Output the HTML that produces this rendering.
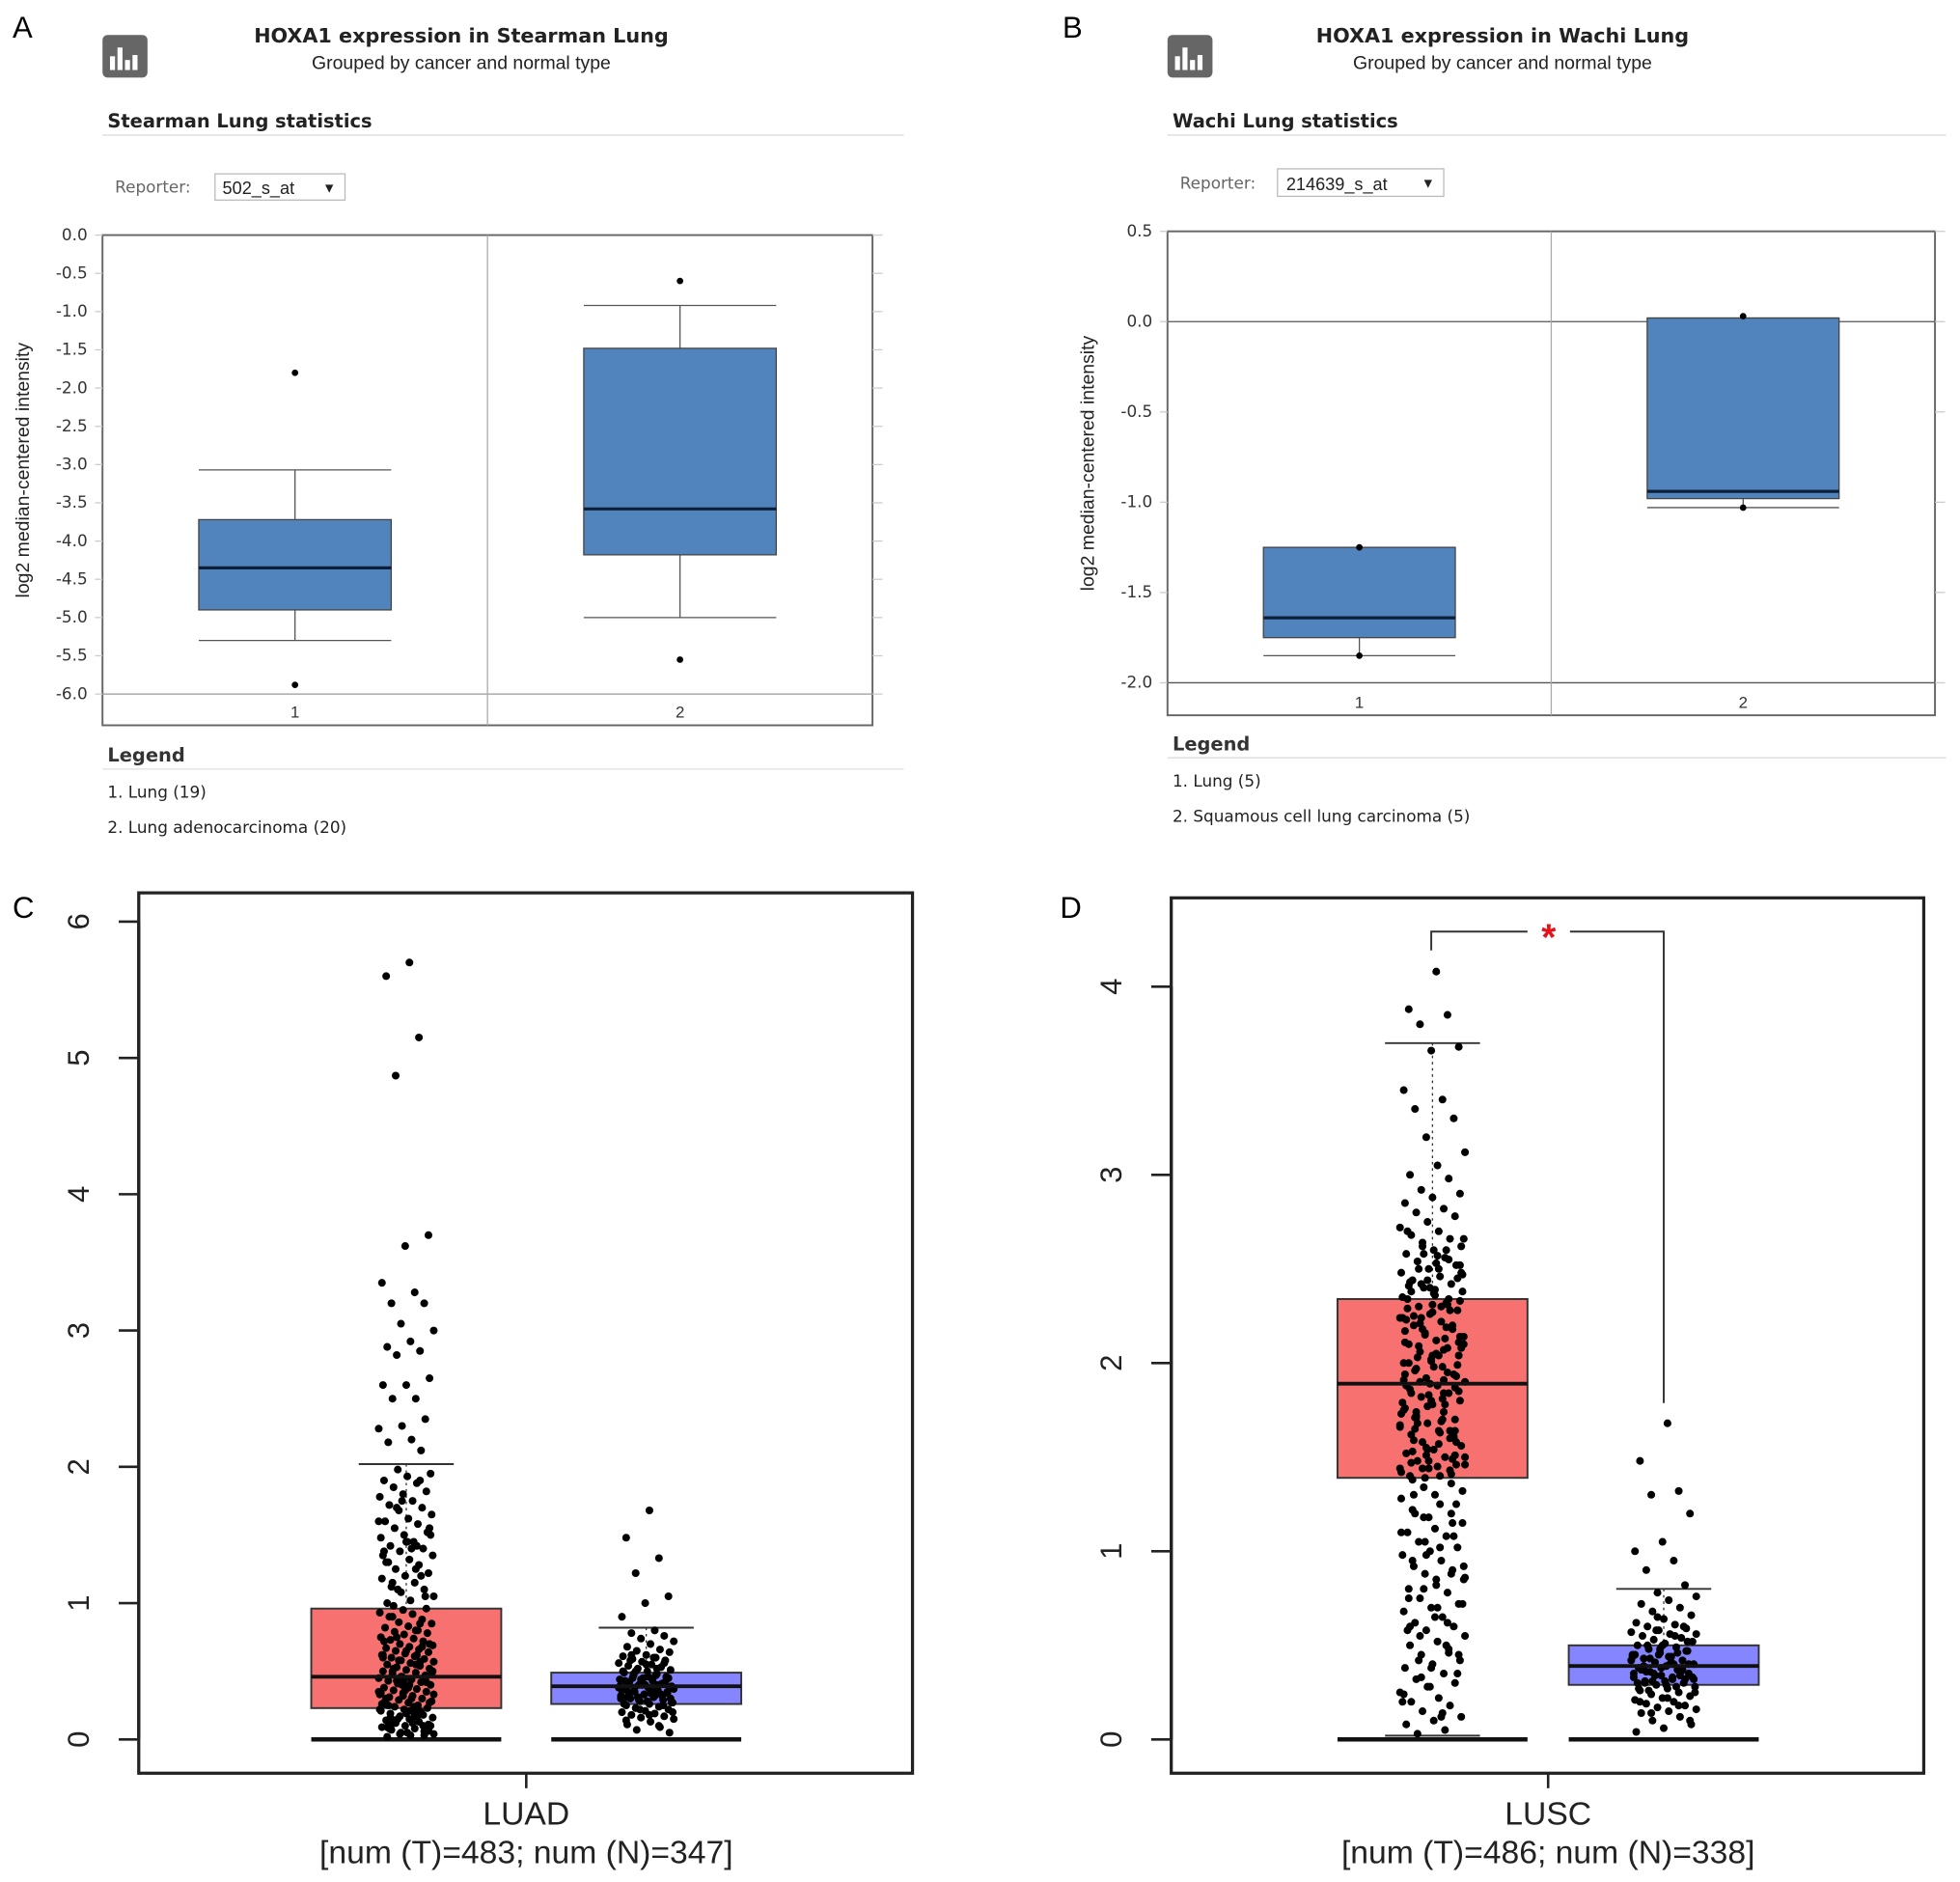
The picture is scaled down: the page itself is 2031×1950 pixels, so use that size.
<!DOCTYPE html>
<html><head><meta charset="utf-8"><style>
html,body{margin:0;padding:0;background:#fff;}
svg{display:block;}
text{font-family:"Liberation Sans","DejaVu Sans",sans-serif;}
.ui{font-family:"DejaVu Sans","Liberation Sans",sans-serif;}
</style></head><body>
<svg id="fig" xmlns="http://www.w3.org/2000/svg" width="2031" height="1950" viewBox="0 0 1568 1505" preserveAspectRatio="none">
<rect width="1568" height="1505" fill="#fff"/>
<text x="10" y="30" font-size="24">A</text>
<g><rect x="82" y="28" width="36" height="34" rx="4" fill="#666"/><rect x="88" y="45" width="4" height="11" fill="#fff"/><rect x="94" y="38" width="4" height="18" fill="#fff"/><rect x="100" y="48" width="4" height="8" fill="#fff"/><rect x="106" y="44" width="4" height="12" fill="#fff"/></g>
<text x="369" y="34" font-size="16" font-weight="bold" text-anchor="middle" class="ui" fill="#222">HOXA1 expression in Stearman Lung</text>
<text x="369" y="55" font-size="15" text-anchor="middle" fill="#222">Grouped by cancer and normal type</text>
<text x="86" y="102" font-size="15" font-weight="bold" class="ui" fill="#222">Stearman Lung statistics</text>
<line x1="82" y1="108" x2="723" y2="108" stroke="#ddd"/>
<text x="92" y="154" font-size="13" class="ui" fill="#666">Reporter:</text>
<g><rect x="172" y="139" width="104" height="21" fill="#fff" stroke="#bbb"/><text x="178" y="155" font-size="14" fill="#222">502_s_at</text><text x="258" y="154" font-size="11" fill="#222">▼</text></g>
<g id="chartA"></g>
<text x="86" y="609" font-size="15" font-weight="bold" class="ui" fill="#333">Legend</text>
<line x1="82" y1="615" x2="723" y2="615" stroke="#ddd"/>
<text x="86" y="638" font-size="13" class="ui" fill="#222">1. Lung (19)</text>
<text x="86" y="666" font-size="13" class="ui" fill="#222">2. Lung adenocarcinoma (20)</text>
<text x="850" y="30" font-size="24">B</text>
<g><rect x="934" y="28" width="36" height="34" rx="4" fill="#666"/><rect x="940" y="45" width="4" height="11" fill="#fff"/><rect x="946" y="38" width="4" height="18" fill="#fff"/><rect x="952" y="48" width="4" height="8" fill="#fff"/><rect x="958" y="44" width="4" height="12" fill="#fff"/></g>
<text x="1202" y="34" font-size="16" font-weight="bold" text-anchor="middle" class="ui" fill="#222">HOXA1 expression in Wachi Lung</text>
<text x="1202" y="55" font-size="15" text-anchor="middle" fill="#222">Grouped by cancer and normal type</text>
<text x="938" y="102" font-size="15" font-weight="bold" class="ui" fill="#222">Wachi Lung statistics</text>
<line x1="934" y1="108" x2="1557" y2="108" stroke="#ddd"/>
<text x="944" y="151" font-size="13" class="ui" fill="#666">Reporter:</text>
<g><rect x="1022" y="135" width="133" height="22" fill="#fff" stroke="#bbb"/><text x="1029" y="152" font-size="14" fill="#222">214639_s_at</text><text x="1137" y="150" font-size="11" fill="#222">▼</text></g>
<g id="chartB"></g>
<text x="938" y="600" font-size="15" font-weight="bold" class="ui" fill="#333">Legend</text>
<line x1="934" y1="606" x2="1557" y2="606" stroke="#ddd"/>
<text x="938" y="629" font-size="13" class="ui" fill="#222">1. Lung (5)</text>
<text x="938" y="657" font-size="13" class="ui" fill="#222">2. Squamous cell lung carcinoma (5)</text>
<text x="10" y="734" font-size="24">C</text>
<text x="848" y="734" font-size="24">D</text>
<g id="chartC"></g>
<g id="chartD"></g>
</svg>
<script>
const aCats = ["1","2"];
const aQ1 = [-4.9,-4.18];
const aMed = [-4.35,-3.58];
const aQ3 = [-3.72,-1.48];
const aLo = [-5.3,-5.0];
const aHi = [-3.07,-0.92];
const aOut = [[-1.8,-5.88],[-0.6,-5.55]];
const aTicks = ["0.0","-0.5","-1.0","-1.5","-2.0","-2.5","-3.0","-3.5","-4.0","-4.5","-5.0","-5.5","-6.0"];
const bCats = ["1","2"];
const bQ1 = [-1.75,-0.98];
const bMed = [-1.64,-0.94];
const bQ3 = [-1.25,0.02];
const bLo = [-1.85,-1.03];
const bHi = [-1.25,0.02];
const bOut = [[-1.25,-1.85],[0.03,-1.03]];
const bTicks = ["0.5","0.0","-0.5","-1.0","-1.5","-2.0"];
const cStats = {tumor:[0,0.23,0.46,0.96,2.02], normal:[0,0.26,0.39,0.49,0.82]};
const cTicks = ["0","1","2","3","4","5","6"];
const cTumor = [5.7,5.6,5.15,4.87,3.7,3.62,3.35,3.28,3.2,3.2,3.05,3.0,2.92,2.88,2.85,2.82,2.65,2.6,2.6,2.5,2.5,2.35,2.3,2.28,2.2,2.18,2.12,
1.98,1.95,1.93,1.9,1.88,1.85,1.82,1.8,1.78,1.75,1.72,1.7,1.68,1.65,1.62,1.6,1.58,1.55,1.52,1.5,1.48,1.45,1.42,1.4,1.38,1.35,1.32,1.3,1.28,1.25,1.22,1.2,1.18,1.15,1.12,1.1,1.08,1.05,1.02,1.0,1.9,1.7,1.55,1.45,1.35,1.25,1.15,1.05,1.75,1.6,1.4,1.3,1.2,1.1,1.5,1.45,1.38,1.42,
0.98,0.96,0.95,0.93,0.92,0.9,0.88,0.86,0.85,0.83,0.82,0.8,0.79,0.78,0.77,0.75,0.74,0.73,0.72,0.7,0.69,0.68,0.67,0.66,0.65,0.64,0.63,0.62,0.61,0.6,0.59,0.58,0.57,0.56,0.55,0.54,0.53,0.52,0.51,0.5,0.49,0.48,0.47,0.46,0.45,0.44,0.43,0.42,0.41,0.4,0.39,0.38,0.37,0.36,0.35,0.34,0.33,0.32,0.31,0.3,0.29,0.28,0.27,0.26,0.25,0.24,0.23,0.22,0.21,0.2,0.19,0.18,0.17,0.16,0.15,0.14,0.13,0.12,0.11,0.1,0.09,0.08,0.07,0.06,0.05,0.04,0.03,0.02,
0.85,0.75,0.7,0.65,0.6,0.55,0.5,0.45,0.4,0.35,0.3,0.25,0.2,0.15,0.1,0.05,0.72,0.62,0.52,0.42,0.32,0.22,0.12,0.08,0.68,0.58,0.48,0.38,0.28,0.18,0.14,0.06,0.44,0.34,0.24,0.16,0.1,0.04,0.5,0.4,0.3,0.2,0.13,0.07,0.36,0.26,0.17,0.11,0.03,0.46,0.33,0.21,0.09,0.57,0.43,0.27,0.19,0.62,0.8,0.9];
const cNormal = [1.68,1.48,1.33,1.22,1.05,1.0,0.9,0.8,0.78,0.76,0.74,0.72,0.7,0.68,0.66,0.65,0.64,0.62,0.61,0.6,0.59,0.58,0.57,0.56,0.55,0.54,0.53,0.52,0.51,0.5,0.49,0.48,0.47,0.46,0.45,0.44,0.43,0.42,0.41,0.4,0.39,0.38,0.37,0.36,0.35,0.34,0.33,0.32,0.31,0.3,0.29,0.28,0.27,0.26,0.25,0.24,0.23,0.22,0.21,0.2,0.19,0.18,0.17,0.16,0.15,0.13,0.11,0.09,0.07,0.05,
0.55,0.5,0.47,0.45,0.42,0.4,0.38,0.36,0.35,0.33,0.31,0.3,0.28,0.26,0.52,0.48,0.44,0.41,0.39,0.37,0.34,0.32,0.29,0.27,0.46,0.43,0.4,0.38,0.35,0.33,0.3,0.6,0.58,0.25,0.22,0.2,0.18,0.14,0.1,0.5,0.45,0.4,0.36,0.32,0.62,0.56,0.44,0.37,0.34,0.31];
const dStats = {tumor:[0.02,1.39,1.89,2.34,3.7], normal:[0,0.29,0.39,0.5,0.8]};
const dTicks = ["0","1","2","3","4"];
const dTumor = [4.08,3.88,3.85,3.8,3.68,3.66,3.45,3.4,3.35,3.3,3.2,3.12,3.05,3.0,2.98,2.92,2.9,2.88,2.85,2.82,2.8,2.78,2.75,2.72,2.7,2.68,2.66,2.64,2.62,2.6,2.58,2.56,2.54,2.52,2.5,2.48,2.46,2.44,2.42,2.4,2.38,2.36,2.34,2.32,2.3,2.28,2.26,2.24,2.22,2.2,2.18,2.16,2.14,2.12,2.1,2.08,2.06,2.04,2.02,2.0,1.98,1.96,1.94,1.92,1.9,1.88,1.86,1.84,1.82,1.8,1.78,1.76,1.74,1.72,1.7,1.68,1.66,1.64,1.62,1.6,1.58,1.56,1.54,1.52,1.5,1.48,1.46,1.44,1.42,1.4,1.38,1.36,1.34,1.32,1.3,
2.7,2.6,2.5,2.45,2.4,2.35,2.3,2.25,2.2,2.15,2.1,2.05,2.0,1.95,1.9,1.85,1.8,1.75,1.7,1.65,1.6,1.55,1.5,1.45,1.4,2.55,2.42,2.33,2.27,2.17,2.07,1.97,1.87,1.77,1.67,1.57,1.47,1.43,2.62,2.48,2.37,2.23,2.13,2.03,1.93,1.83,1.73,1.63,1.53,1.41,
2.58,2.47,2.39,2.29,2.19,2.09,1.99,1.89,1.79,1.69,1.59,1.49,1.39,2.66,2.53,2.41,2.31,2.21,2.11,2.01,1.91,1.81,1.71,1.61,1.51,1.46,2.57,2.43,2.34,2.24,2.14,2.04,1.94,1.84,1.74,1.64,1.54,1.44,2.5,2.38,2.28,2.18,2.08,1.98,1.88,1.78,1.68,1.58,1.48,
1.28,1.25,1.22,1.2,1.18,1.15,1.12,1.1,1.08,1.05,1.02,1.0,0.98,0.95,0.92,0.9,0.88,0.85,0.82,0.8,0.78,0.75,0.72,0.7,0.68,0.65,0.62,0.6,0.58,0.55,0.52,0.5,0.48,0.45,0.42,0.4,0.38,0.35,0.32,0.3,0.28,0.25,0.22,0.2,0.18,0.15,0.12,0.1,0.08,0.05,0.03,
1.25,1.18,1.1,1.02,0.95,0.88,0.8,0.72,0.65,0.58,0.5,0.42,0.35,0.28,0.2,0.12,1.3,1.15,1.05,0.92,0.85,0.75,0.62,0.55,0.45,0.38,0.24,0.14,1.2,1.08,0.98,0.86,0.7,0.6,0.46,0.33,2.52,2.31,2.11,1.91,1.71,1.51,2.44,2.24,2.04,1.84,1.64,1.44];
const dNormal = [1.68,1.48,1.32,1.3,1.2,1.05,1.0,0.95,0.9,0.82,0.78,0.76,0.74,0.72,0.7,0.68,0.66,0.64,0.62,0.61,0.6,0.59,0.58,0.57,0.56,0.55,0.54,0.53,0.52,0.51,0.5,0.49,0.48,0.47,0.46,0.45,0.44,0.43,0.42,0.41,0.4,0.39,0.38,0.37,0.36,0.35,0.34,0.33,0.32,0.31,0.3,0.29,0.28,0.27,0.26,0.25,0.24,0.23,0.22,0.21,0.2,0.19,0.18,0.17,0.16,0.15,0.14,0.12,0.1,0.08,0.06,0.04,
0.55,0.5,0.47,0.45,0.42,0.4,0.38,0.36,0.35,0.33,0.31,0.3,0.28,0.26,0.52,0.48,0.44,0.41,0.39,0.37,0.34,0.32,0.29,0.27,0.46,0.43,0.4,0.38,0.35,0.33,0.3,0.6,0.58,0.25,0.22,0.2,0.18,0.14,0.1,0.5,0.45,0.4,0.36,0.32,0.65,0.56,0.44,0.37,0.34,0.31];

const NS = "http://www.w3.org/2000/svg";
function mk(parent, tag, attrs){const e=document.createElementNS(NS,tag);for(const k in attrs)e.setAttribute(k,attrs[k]);parent.appendChild(e);return e;}

function oncomine(g, cfg, cats, q1, med, q3, lo, hi, outs, ticks){
  const y = v => cfg.y0 + (cfg.v0 - v) * (cfg.y1 - cfg.y0) / (cfg.v0 - cfg.v1);
  const bw = (cfg.x1 - cfg.x0) / cats.length;
  const fr = mk(g,'rect',{x:cfg.x0,y:cfg.y0,width:cfg.x1-cfg.x0,height:cfg.yb-cfg.y0,fill:'none',stroke:'#666','stroke-width':1.5});
  
  
  ticks.forEach(t=>{
    const v=parseFloat(t), yy=y(v);
    mk(g,'line',{x1:cfg.x1,y1:yy,x2:cfg.x1+8,y2:yy,stroke:'#ccc'});
    mk(g,'line',{x1:cfg.x0-6,y1:yy,x2:cfg.x0,y2:yy,stroke:'#ccc'});
    const tx=mk(g,'text',{x:cfg.x0-12,y:yy+4,'font-size':13,'text-anchor':'end',fill:'#333',class:'ui'});
    tx.textContent=t;
    
    
  });
  cfg.hlines.forEach(v=>mk(g,'line',{x1:cfg.x0,y1:y(v),x2:cfg.x1,y2:y(v),stroke:cfg.hcol||'#999'}));
  for(let i=1;i<cats.length;i++) mk(g,'line',{x1:cfg.x0+bw*i,y1:cfg.y0,x2:cfg.x0+bw*i,y2:cfg.yb,stroke:'#aaa'});
  const yl=mk(g,'text',{x:0,y:0,'font-size':15,'text-anchor':'middle',fill:'#222',transform:`translate(${cfg.ylx},${(cfg.y0+cfg.yb)/2-8}) rotate(-90)`});
  yl.textContent='log2 median-centered intensity';
  
  
  cats.forEach((c,i)=>{
    const cx=cfg.x0+bw*(i+0.5), hw=bw*0.25;
    mk(g,'line',{x1:cx,y1:y(hi[i]),x2:cx,y2:y(lo[i]),stroke:'#555'});
    mk(g,'line',{x1:cx-hw,y1:y(hi[i]),x2:cx+hw,y2:y(hi[i]),stroke:'#555'});
    mk(g,'line',{x1:cx-hw,y1:y(lo[i]),x2:cx+hw,y2:y(lo[i]),stroke:'#555'});
    const b=mk(g,'rect',{x:cx-hw,y:y(q3[i]),width:hw*2,height:y(q1[i])-y(q3[i]),fill:'#5184bc',stroke:'#444'});
    
    
    mk(g,'line',{x1:cx-hw,y1:y(med[i]),x2:cx+hw,y2:y(med[i]),stroke:'#0e1f3a','stroke-width':2.5});
    outs[i].forEach(v=>{const d=mk(g,'circle',{cx:cx,cy:y(v),r:2.6,fill:'#000'});
      
      });
    const xl=mk(g,'text',{x:cx,y:cfg.yb-6,'font-size':13,'text-anchor':'middle',fill:'#333'});
    xl.textContent=c;
    
    
  });
}
oncomine(document.getElementById('chartA'),{x0:82,x1:698,y0:188,yb:580,y1:555,v0:0,v1:-6,hlines:[-6],ylx:23},aCats,aQ1,aMed,aQ3,aLo,aHi,aOut,aTicks);
oncomine(document.getElementById('chartB'),{x0:934,x1:1548,y0:185,yb:572,y1:546,v0:0.5,v1:-2,hlines:[0,-2],hcol:'#555',ylx:875},bCats,bQ1,bMed,bQ3,bLo,bHi,bOut,bTicks);

function gepia(g, cfg, stats, tumor, normal, ticks, label, nlabel){
  const y = v => cfg.yz - v*cfg.ppu;
  const f=mk(g,'rect',{x:cfg.x0,y:cfg.y0,width:cfg.x1-cfg.x0,height:cfg.yb-cfg.y0,fill:'none',stroke:'#222','stroke-width':2.5});
  
  
  ticks.forEach(t=>{const yy=y(+t);
    mk(g,'line',{x1:cfg.x0-16,y1:yy,x2:cfg.x0,y2:yy,stroke:'#222','stroke-width':2});
    const tx=mk(g,'text',{x:0,y:0,'font-size':24,'text-anchor':'middle',fill:'#222',transform:`translate(${cfg.x0-40},${yy}) rotate(-90)`});
    tx.textContent=t;
    
    });
  mk(g,'line',{x1:cfg.x0,y1:y(0),x2:cfg.x0,y2:y(+ticks[ticks.length-1]),stroke:'#222','stroke-width':2.5});
  const mid=(cfg.cT+cfg.cN)/2;
  mk(g,'line',{x1:mid,y1:cfg.yb,x2:mid,y2:cfg.yb+12,stroke:'#222','stroke-width':2});
  const l1=mk(g,'text',{x:mid,y:cfg.yb+41,'font-size':26,'text-anchor':'middle',fill:'#222'});l1.textContent=label;
  
  
  const l2=mk(g,'text',{x:mid,y:cfg.yb+72,'font-size':26,'text-anchor':'middle',fill:'#222'});l2.textContent=nlabel;
  
  
  const hw=76;
  [['tumor',cfg.cT,'#f87171',tumor],['normal',cfg.cN,'#8585ff',normal]].forEach(([k,cx,col,pts])=>{
    const s=stats[k];
    const b=mk(g,'rect',{x:cx-hw,y:y(s[3]),width:hw*2,height:y(s[1])-y(s[3]),fill:col,stroke:'#333','stroke-width':1.5});
    
    
    mk(g,'line',{x1:cx-hw,y1:y(0),x2:cx+hw,y2:y(0),stroke:'#111','stroke-width':3.5});
    mk(g,'line',{x1:cx-38,y1:y(s[4]),x2:cx+38,y2:y(s[4]),stroke:'#333','stroke-width':1.5});
    mk(g,'line',{x1:cx,y1:y(s[4]),x2:cx,y2:y(s[3]),stroke:'#333','stroke-dasharray':'2,3'});
    if(s[0]>0) mk(g,'line',{x1:cx-38,y1:y(s[0]),x2:cx+38,y2:y(s[0]),stroke:'#333','stroke-width':1.5});
    pts.forEach((v,i)=>{
      const jit=(((i*137+29)%53)/52-0.5)*2*cfg.spread;
      const d=mk(g,'circle',{cx:cx+jit,cy:y(v),r:3.1,fill:'#000'});
      
      
    });
    mk(g,'line',{x1:cx-hw,y1:y(s[2]),x2:cx+hw,y2:y(s[2]),stroke:'#111','stroke-width':3});
  });
}
gepia(document.getElementById('chartC'),{x0:111,x1:730,y0:714,yb:1418,yz:1391,ppu:109,cT:325,cN:517,spread:22},cStats,cTumor,cNormal,cTicks,'LUAD','[num (T)=483; num (N)=347]');
gepia(document.getElementById('chartD'),{x0:937,x1:1539,y0:718,yb:1418,yz:1391,ppu:150.5,cT:1146,cN:1331,spread:26},dStats,dTumor,dNormal,dTicks,'LUSC','[num (T)=486; num (N)=338]');
const gd=document.getElementById('chartD');
const br=mk(gd,'path',{d:'M1145,760 V745 H1222 M1256,745 H1331 V1122',fill:'none',stroke:'#333','stroke-width':1.5});


const st=mk(gd,'text',{x:1239,y:760,'font-size':30,'text-anchor':'middle',fill:'#e8101a','font-weight':'bold'});
st.textContent='*';


</script>
</body></html>
